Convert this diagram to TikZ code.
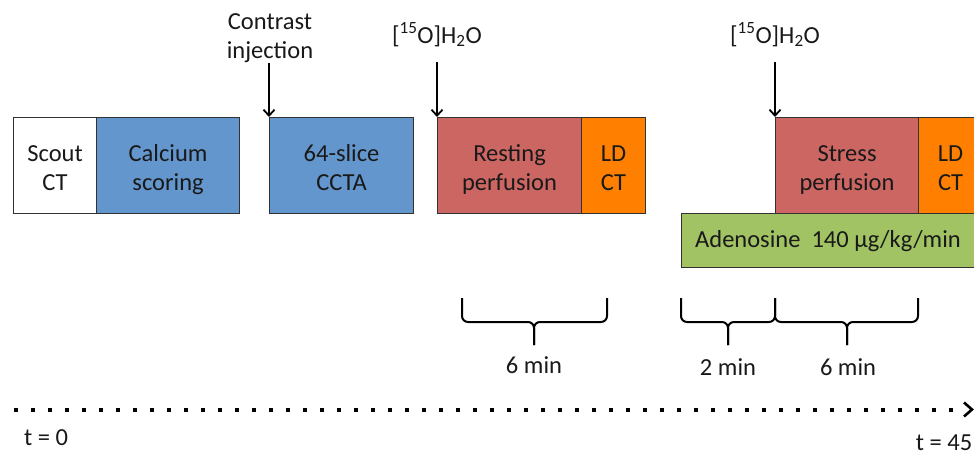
\documentclass[tikz,border=0pt]{standalone}
\usepackage{fontspec}
\setmainfont{Carlito}
\usetikzlibrary{arrows.meta,calc}
\definecolor{cblue}{RGB}{99,150,204}
\definecolor{cred}{RGB}{204,102,99}
\definecolor{corange}{RGB}{255,128,0}
\definecolor{cgreen}{RGB}{162,195,100}
\definecolor{cedge}{RGB}{50,50,50}
\definecolor{ctext}{RGB}{25,25,25}
\begin{document}
\begin{tikzpicture}[x=1pt,y=-1pt,
  every node/.style={font=\fontsize{24.5}{29}\selectfont, text=ctext},
  box/.style={draw=cedge, line width=1.1pt, anchor=north west, minimum height=96pt,
              inner sep=0pt, align=center, text height=56pt, text depth=6pt},
  arr/.style={line width=1.8pt, -{Straight Barb[length=6pt,width=11pt,line width=1.8pt]}},
  bracepath/.style={line width=2pt, rounded corners=6pt},
  lbl/.style={inner sep=0pt, align=center}]
\clip (0,0) rectangle (974,456);
\fill[white] (0,0) rectangle (974,456);
% boxes
\node[box, fill=white, minimum width=83pt] (scout) at (13,117) {Scout\\CT};
\node[box, fill=cblue, minimum width=143pt] (calc) at (96,117) {Calcium\\scoring};
\node[box, fill=cblue, minimum width=144pt] (ccta) at (269,117) {64-slice\\CCTA};
\node[box, fill=cred, minimum width=144pt] (rest) at (437,117) {Resting\\perfusion};
\node[box, fill=corange, minimum width=64pt] (ld1) at (581,117) {LD\\CT};
\node[box, fill=cgreen, minimum width=320pt, minimum height=54pt, text height=, text depth=] (aden) at (681,213) {};
\node[lbl, anchor=west] (adentext) at ($(aden.west)+(14,1)$) {Adenosine\ \ 140 µg/kg/min};
\node[box, fill=cred, minimum width=143pt] (stress) at (775,117) {Stress\\perfusion};
\node[box, fill=corange, minimum width=64pt] (ld2) at (918,117) {LD\\CT};
% injection labels and arrows
\node[lbl, anchor=south] (contrast) at (270,63) {Contrast\\injection};
\draw[arr] (contrast.south -| ccta.north west) -- (ccta.north west);
\node[lbl, anchor=base] (w1) at (437,43) {[\textsuperscript{15}O]H\textsubscript{2}O};
\coordinate (w1a) at (437,62);
\draw[arr] (w1a) -- (rest.north west);
\node[lbl, anchor=base] (w2) at (775,43) {[\textsuperscript{15}O]H\textsubscript{2}O};
\coordinate (w2a) at (775,62);
\draw[arr] (w2a) -- (stress.north west);
% braces
\coordinate (b1l) at (462,298); \coordinate (b1r) at (607,298); \coordinate (b1m) at (534,322); \coordinate (b1t) at (534,345);
\draw[bracepath] (b1l) |- (b1m) -- (b1t);
\draw[bracepath] (b1r) |- (b1m) -- (b1t);
\coordinate (b2l) at (681,298); \coordinate (b2r) at (775,298); \coordinate (b2m) at (728,322); \coordinate (b2t) at (728,345);
\draw[bracepath] (b2l) |- (b2m) -- (b2t);
\draw[bracepath] (b2r) |- (b2m) -- (b2t);
\coordinate (b3l) at (775,298); \coordinate (b3r) at (918,298); \coordinate (b3m) at (847,322); \coordinate (b3t) at (847,345);
\draw[bracepath] (b3l) |- (b3m) -- (b3t);
\draw[bracepath] (b3r) |- (b3m) -- (b3t);
\node[lbl, anchor=base] (m1) at (534,373) {6 min};
\node[lbl, anchor=base] (m2) at (728,375) {2 min};
\node[lbl, anchor=base] (m3) at (848,375) {6 min};
% timeline
\coordinate (tl0) at (14,410);
\coordinate (tl1) at (958,410);
\draw[line width=3.6pt, dash pattern=on 3.6pt off 13.4pt] (tl0) -- (tl1);
\coordinate (chev) at (972,409.5);
\draw[line width=2.6pt, miter limit=10] ($(chev)+(-8,-7)$) -- (chev) -- ($(chev)+(-8,7)$);
\node[lbl, anchor=base] (t0) at (46,445) {t = 0};
\node[lbl, anchor=base] (t45) at (944,450) {t = 45};
\end{tikzpicture}
\end{document}
